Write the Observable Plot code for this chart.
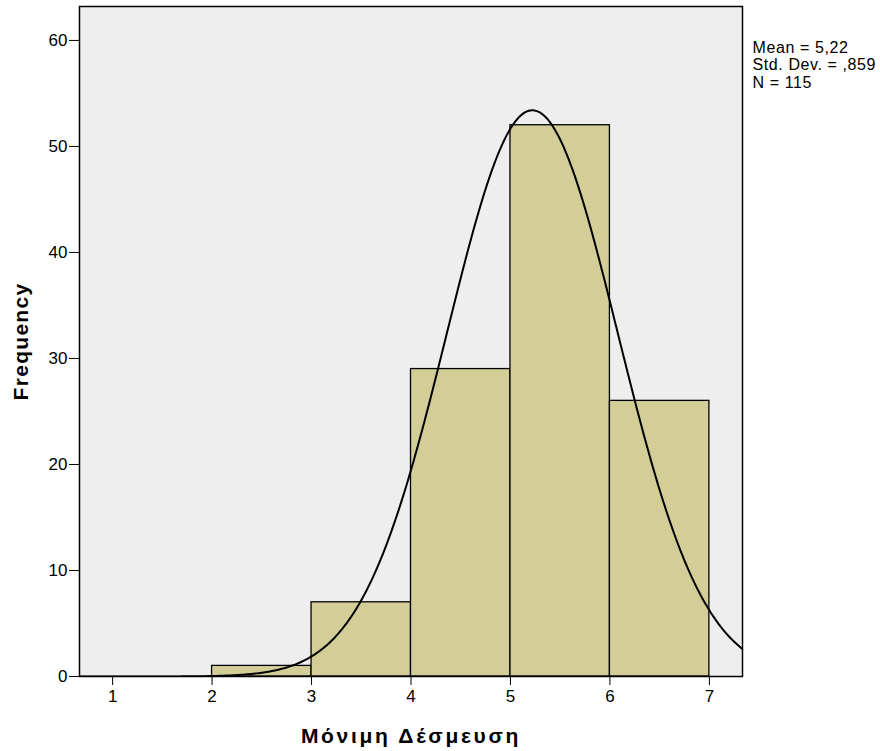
<!DOCTYPE html>
<html><head><meta charset="utf-8">
<script src="https://cdn.jsdelivr.net/npm/d3@7"></script>
<script src="https://cdn.jsdelivr.net/npm/@observablehq/plot@0.6"></script>
<style>
body{margin:0;background:#fff}
svg{font-family:"Liberation Sans",Arial,sans-serif}
g[aria-label="x-axis label"] text{font-size:21px !important;font-weight:bold;letter-spacing:2.7px}
g[aria-label="y-axis label"] text{font-size:21px !important;font-weight:bold;letter-spacing:1.3px}
g[aria-label="x-axis tick label"] text, g[aria-label="y-axis tick label"] text{font-size:17px !important}
g[aria-label="x-axis tick label"], g[aria-label="y-axis tick label"]{font-size:17px !important}
g.stats text{letter-spacing:0.6px}
</style>
</head><body><div id="chart"></div>
<script>
const binStart = [2, 3, 4, 5, 6];
const binEnd = [3, 4, 5, 6, 7];
const counts = [1, 7, 29, 52, 26];
const xTicks = [1, 2, 3, 4, 5, 6, 7];
const yTicks = [0, 10, 20, 30, 40, 50, 60];
const mean = 5.22, sd = 0.859, n = 115, binWidth = 1;
const statLines = ["Mean = 5,22", "Std. Dev. = ,859", "N = 115"];
const xLabel = "Μόνιμη Δέσμευση";
const yLabel = "Frequency";

const bars = binStart.map((s, i) => ({x1: s, x2: binEnd[i], y: counts[i]}));
const xDomain = [0.667, 7.333];
// fitted normal curve from the stated mean / std. dev. / N
const curve = d3.range(0, 401).map(i => {
  const x = xDomain[0] + (xDomain[1] - xDomain[0]) * i / 400;
  const z = (x - mean) / sd;
  return {x, y: n * binWidth / (sd * Math.sqrt(2 * Math.PI)) * Math.exp(-0.5 * z * z)};
});

const chart = Plot.plot({
  width: 880, height: 751,
  marginLeft: 79, marginRight: 138, marginTop: 6, marginBottom: 75,
  style: {fontFamily: '"Liberation Sans", Arial, sans-serif', color: "#000", background: "#fff"},
  x: {domain: xDomain},
  y: {domain: [0, 63.2]},
  marks: [
    Plot.frame({fill: "#EEEEEE"}),
    Plot.rectY(bars, {x1: "x1", x2: "x2", y1: 0, y2: "y", fill: "#D3CE98", stroke: "#000", strokeWidth: 1.3}),
    Plot.line(curve, {x: "x", y: "y", stroke: "#000", strokeWidth: 2, clip: true}),
    Plot.frame({stroke: "#000", strokeWidth: 1.5}),
    Plot.axisX({ticks: xTicks, tickSize: 9, tickPadding: 4, fontSize: 17, tickFormat: d => String(d),
      label: xLabel, labelAnchor: "center", labelArrow: "none", labelOffset: 66}),
    Plot.axisY({ticks: yTicks, tickSize: 10, tickPadding: 2, fontSize: 17, tickFormat: d => String(d),
      label: yLabel, labelAnchor: "center", labelArrow: "none", labelOffset: 66}),
    Plot.text([statLines.join("\n")], {frameAnchor: "top-right", textAnchor: "start", lineAnchor: "top",
      dx: 10, dy: 34, fontSize: 16, lineHeight: 1.09, fill: "#000", className: "stats"})
  ]
});
document.getElementById("chart").appendChild(chart);
</script>
</body></html>
